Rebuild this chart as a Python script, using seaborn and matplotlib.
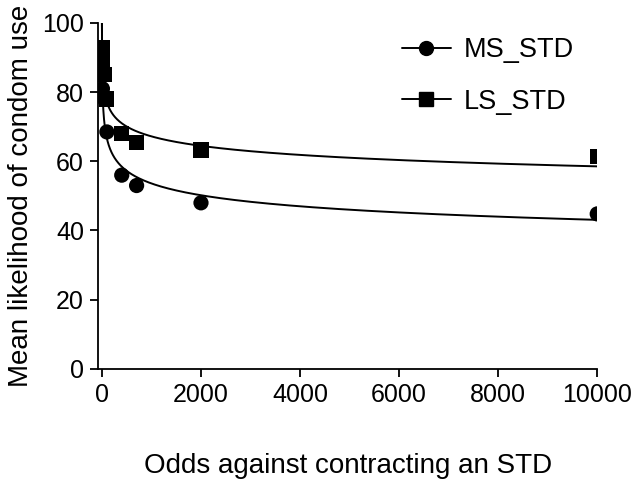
import numpy as np
import pandas as pd
import matplotlib
matplotlib.use("Agg")
import matplotlib.pyplot as plt
from matplotlib.lines import Line2D
import seaborn as sns

# ---- data ----
odds = [1, 5, 10, 50, 100, 400, 700, 2000, 10000]
ms_std = [90, 87, 81, 78, 68.5, 56, 53, 48, 44.8]
ls_std = [93, 91, 88, 85, 78, 68, 65.5, 63.3, 61.3]
series_names = ["MS_STD", "LS_STD"]
x_ticks = [0, 2000, 4000, 6000, 8000, 10000]
y_ticks = [0, 20, 40, 60, 80, 100]

sns.set_theme(style="ticks")
plt.rcParams['font.family'] = ['Liberation Sans', 'DejaVu Sans']
plt.rcParams['text.color'] = 'black'
plt.rcParams['axes.labelcolor'] = 'black'

df = pd.DataFrame({
    "odds": odds * 2,
    "value": ms_std + ls_std,
    "series": [series_names[0]] * len(odds) + [series_names[1]] * len(odds),
})

# hyperboloid fit y = 100 / (1 + k x)^s by least squares (grid search)
grid = np.concatenate([np.linspace(0, 1, 30), np.geomspace(1, 10000, 400)])
log_k = np.linspace(-5, 3, 321)
s_vals = np.linspace(0.01, 1.5, 299)
curves = []
for name, vals in zip(series_names, [ms_std, ls_std]):
    xv = np.array(odds, float)
    yv = np.array(vals, float)
    K = 10 ** log_k[:, None, None]
    S = s_vals[None, :, None]
    pred = 100.0 / (1.0 + K * xv[None, None, :]) ** S
    sse = ((pred - yv) ** 2).sum(axis=2)
    i, j = np.unravel_index(np.argmin(sse), sse.shape)
    k, s = 10 ** log_k[i], s_vals[j]
    fit = 100.0 / (1.0 + k * grid) ** s
    curves.append(pd.DataFrame({"odds": grid, "value": fit, "series": name}))
curve_df = pd.concat(curves, ignore_index=True)

fig = plt.figure(figsize=(6.32, 4.79), dpi=100)
ax = fig.add_axes([0.155, 0.23, 0.79, 0.722])

sns.lineplot(data=curve_df, x="odds", y="value", units="series", estimator=None,
             color="black", linewidth=1.4, ax=ax, legend=False, sort=False)
sns.scatterplot(data=df, x="odds", y="value", style="series",
                markers={"MS_STD": "o", "LS_STD": "s"}, color="black",
                s=120, edgecolor="black", linewidth=0, ax=ax, legend=False, zorder=3)

ax.set_xlim(-80, 10000)
ax.set_ylim(0, 100)
ax.set_xticks(x_ticks)
ax.set_yticks(y_ticks)
ax.tick_params(direction="out", length=6, width=1.3, labelsize=18, color="black",
               labelcolor="black", pad=4)
for sp in ["top", "right"]:
    ax.spines[sp].set_visible(False)
for sp in ["left", "bottom"]:
    ax.spines[sp].set_linewidth(1.3)
    ax.spines[sp].set_color("black")

ax.set_xlabel("Odds against contracting an STD", fontsize=20, labelpad=33, color="black")
ax.set_ylabel("Mean likelihood of condom use", fontsize=20, labelpad=6, color="black")

handles = [
    Line2D([0], [0], color="black", lw=1.4, marker="o", markersize=10, label="MS_STD"),
    Line2D([0], [0], color="black", lw=1.4, marker="s", markersize=9.5, label="LS_STD"),
]
leg = ax.legend(handles=handles, frameon=False, fontsize=19.5, loc="upper left",
                bbox_to_anchor=(0.56, 1.03), handlelength=1.8, labelspacing=0.95,
                handletextpad=0.5)
for t in leg.get_texts():
    t.set_color("black")

fig.savefig("out.png", dpi=100)
